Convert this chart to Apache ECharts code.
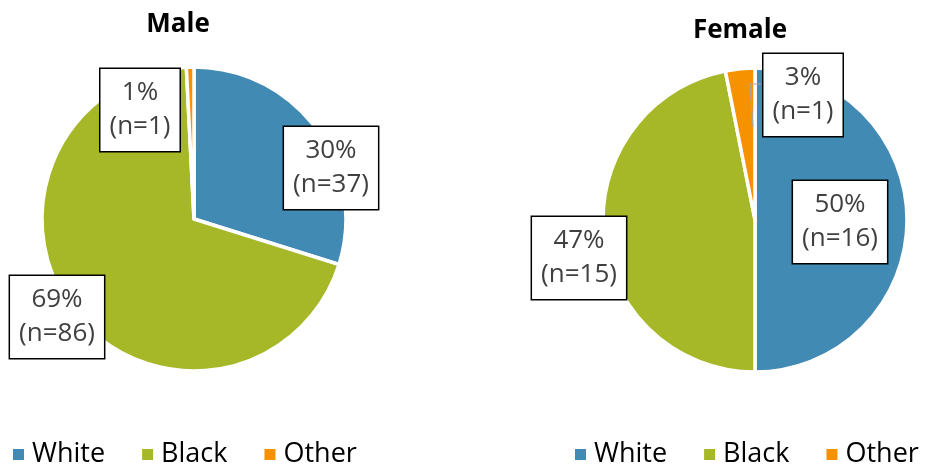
<!DOCTYPE html>
<html>
<head>
<meta charset="utf-8">
<script src="https://cdn.jsdelivr.net/npm/echarts@6/dist/echarts.min.js"></script>
<style>
html,body{margin:0;padding:0;background:#fff;}
#c{width:925px;height:465px;}
</style>
</head>
<body>
<div id="c"></div>
<script>
// ---- data ----
const categories = ['White', 'Black', 'Other'];
const maleValues = [37, 86, 1];
const femaleValues = [16, 15, 1];
const panelTitles = ['Male', 'Female'];

// ---- styles ----
const COLORS = ['#418AB3', '#A6B727', '#F69200'];
const FONT = '"Open Sans", "Noto Sans", sans-serif';
// label box centres [series][dataIndex]
const LABEL_POS = [
  [[331, 168], [57, 317], [140, 110]],
  [[840, 222], [579, 258], [803, 95]]
];

const chart = echarts.init(document.getElementById('c'));

function makeSeries(values, center, sIdx) {
  return {
    type: 'pie',
    center: center,
    radius: 152,
    startAngle: 90,
    clockwise: true,
    percentPrecision: 0,
    avoidLabelOverlap: false,
    animation: false,
    itemStyle: { borderColor: '#ffffff', borderWidth: 3.5 },
    label: {
      show: true,
      position: 'outside',
      formatter: p => `{p|${p.percent}%}\n{n|(n=${p.value})}`,
      backgroundColor: '#ffffff',
      borderColor: '#000000',
      borderWidth: 1.5,
      padding: [7, 9, 7, 9],
      rich: {
        p: { fontFamily: FONT, fontSize: 26, lineHeight: 34, color: '#404040', align: 'center' },
        n: { fontFamily: FONT, fontSize: 26, lineHeight: 34, color: '#404040', align: 'center' }
      }
    },
    labelLine: { show: false },
    emphasis: { disabled: true },
    labelLayout: function (params) {
      const pos = LABEL_POS[sIdx][params.dataIndex];
      return { x: pos[0], y: pos[1], align: 'center', verticalAlign: 'middle' };
    },
    data: values.map((v, i) => ({ name: categories[i], value: v, itemStyle: { color: COLORS[i] } }))
  };
}

const legendBase = {
  icon: 'rect',
  itemWidth: 13,
  itemHeight: 13,
  itemGap: 35,
  padding: 0,
  top: 441,
  orient: 'horizontal',
  selectedMode: false,
  data: categories,
  textStyle: { fontFamily: FONT, fontSize: 27, color: '#000000', padding: [0, 0, 0, 2] }
};

chart.setOption({
  animation: false,
  title: [
    { text: panelTitles[0], left: 173, top: 7, textAlign: 'center',
      textStyle: { fontFamily: FONT, fontSize: 26, fontWeight: 'bold', color: '#000' } },
    { text: panelTitles[1], left: 735, top: 13, textAlign: 'center',
      textStyle: { fontFamily: FONT, fontSize: 26, fontWeight: 'bold', color: '#000' } }
  ],
  legend: [
    Object.assign({}, legendBase, { left: 11 }),
    Object.assign({}, legendBase, { left: 573, width: 352 })
  ],
  series: [
    makeSeries(maleValues, [194, 219], 0),
    makeSeries(femaleValues, [755, 220], 1)
  ],
  // leader line from the small female "Other" slice to its label box
  graphic: [{
    type: 'polyline',
    z: 100,
    silent: true,
    shape: { points: [[753, 127], [750, 84], [761, 84]] },
    style: { stroke: '#A6A6A6', lineWidth: 1.2, fill: null }
  }]
});
</script>
</body>
</html>
